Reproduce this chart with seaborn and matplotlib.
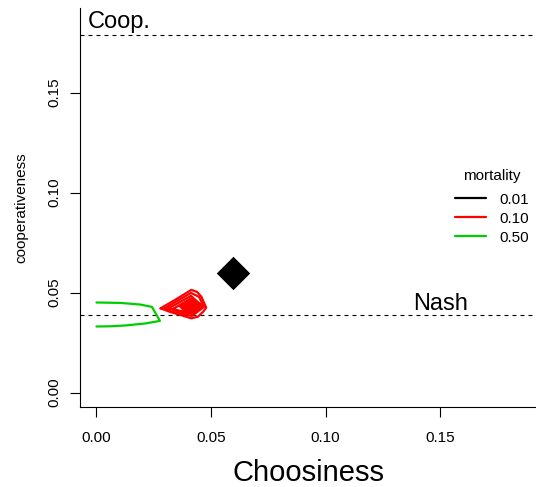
import numpy as np
import pandas as pd
import matplotlib
matplotlib.use("Agg")
import matplotlib.pyplot as plt
from matplotlib.lines import Line2D
import seaborn as sns

# ---- data ----
mortality_levels = ["0.01", "0.10", "0.50"]
mortality_colors = ["#000000", "#FF0000", "#00CD00"]

coop_level = 0.179
nash_level = 0.0388

x_ticks = [0.00, 0.05, 0.10, 0.15]
y_ticks = [0.00, 0.05, 0.10, 0.15]

# mortality 0.01 : collapsed equilibrium point
black_x = [0.0596]
black_y = [0.0598]

# mortality 0.10 : nested contours (outer -> inner)
red1_x = [0.0280, 0.0343, 0.0414, 0.0439, 0.0458, 0.0479, 0.0465, 0.0443, 0.0414, 0.0365, 0.0321, 0.0280]
red1_y = [0.0421, 0.0463, 0.0513, 0.0503, 0.0479, 0.0424, 0.0403, 0.0379, 0.0371, 0.0388, 0.0403, 0.0421]
red2_x = [0.0298, 0.0413, 0.0448, 0.0469, 0.0417, 0.0330, 0.0298]
red2_y = [0.0421, 0.0498, 0.0478, 0.0428, 0.0383, 0.0403, 0.0421]
red3_x = [0.0315, 0.0413, 0.0465, 0.0417, 0.0347, 0.0315]
red3_y = [0.0421, 0.0483, 0.0428, 0.0393, 0.0408, 0.0421]
red4_x = [0.0334, 0.0417, 0.0461, 0.0417, 0.0365, 0.0334]
red4_y = [0.0418, 0.0473, 0.0433, 0.0398, 0.0408, 0.0418]
red_core_x = [0.0356, 0.0417, 0.0456, 0.0465, 0.0434, 0.0382]
red_core_y = [0.0433, 0.0468, 0.0448, 0.0423, 0.0398, 0.0403]

# mortality 0.50 : contour open at x = 0
green_x = [0.0, 0.0103, 0.0190, 0.0242, 0.0277, 0.0212, 0.0124, 0.0059, 0.0]
green_y = [0.0450, 0.0448, 0.0440, 0.0428, 0.0358, 0.0345, 0.0335, 0.0331, 0.0330]

# ---- build table ----
rows = []
for cid, (xs, ys, m) in enumerate([
        (red1_x, red1_y, "0.10"), (red2_x, red2_y, "0.10"),
        (red3_x, red3_y, "0.10"), (red4_x, red4_y, "0.10"),
        (green_x, green_y, "0.50")]):
    for i, (xv, yv) in enumerate(zip(xs, ys)):
        rows.append({"x": xv, "y": yv, "mortality": m, "contour": cid, "order": i})
df = pd.DataFrame(rows)
palette = dict(zip(mortality_levels, mortality_colors))

sns.set_style("ticks")
plt.rcParams["font.family"] = ["Liberation Sans", "DejaVu Sans"]
plt.rcParams["text.color"] = "black"
plt.rcParams["axes.labelcolor"] = "black"
plt.rcParams["xtick.color"] = "black"
plt.rcParams["ytick.color"] = "black"

fig = plt.figure(figsize=(5.36, 4.87), dpi=100)
ax = fig.add_axes([80 / 536, 1 - 407 / 487, 456 / 536, 399.5 / 487])

ax.axhline(coop_level, color="black", lw=0.8, dashes=(3.6, 3.6))
ax.axhline(nash_level, color="black", lw=0.8, dashes=(3.6, 3.6))

sns.lineplot(data=df, x="x", y="y", hue="mortality", units="contour",
             estimator=None, sort=False, palette=palette, lw=1.6,
             legend=False, ax=ax)
ax.fill(red_core_x, red_core_y, color="#FF0000", lw=0)

sns.scatterplot(x=black_x, y=black_y, marker="D", s=290, color="black",
                linewidth=0, ax=ax)

ax.text(-0.0037, 0.1823, "Coop.", fontsize=17, va="baseline", ha="left")
ax.text(0.1382, 0.04125, "Nash", fontsize=17, va="baseline", ha="left")

ax.set_xlim(-0.0072, 0.1919)
ax.set_ylim(-0.00725, 0.1925)
ax.set_xticks(x_ticks)
ax.set_xticklabels([f"{v:.2f}" for v in x_ticks])
ax.set_yticks(y_ticks)
ax.set_yticklabels([f"{v:.2f}" for v in y_ticks])
ax.tick_params(axis="both", direction="out", length=7.2, width=0.8,
               labelsize=11, colors="black")
ax.tick_params(axis="x", pad=10)
ax.tick_params(axis="y", pad=6)
plt.setp(ax.get_yticklabels(), rotation=90, va="center")

for s in ["top", "right"]:
    ax.spines[s].set_visible(False)
for s in ["left", "bottom"]:
    ax.spines[s].set_linewidth(0.8)
    ax.spines[s].set_color("black")

ax.set_xlabel("Choosiness", fontsize=21)
ax.set_ylabel("cooperativeness", fontsize=11)
ax.xaxis.set_label_coords(0.5, -0.129)
ax.yaxis.set_label_coords(-0.114, 0.5)

handles = [Line2D([0], [0], color=c, lw=1.6) for c in mortality_colors]
leg = ax.legend(handles, mortality_levels, title="mortality", frameon=False,
                loc="upper left", bbox_to_anchor=(455 / 536, 1 - 169 / 487),
                bbox_transform=fig.transFigure, borderpad=0, borderaxespad=0,
                fontsize=11, title_fontsize=11, handlelength=2.0,
                handletextpad=0.9, labelspacing=0.33)
leg._legend_box.sep = 7.0

fig.savefig("out.png", dpi=100)
